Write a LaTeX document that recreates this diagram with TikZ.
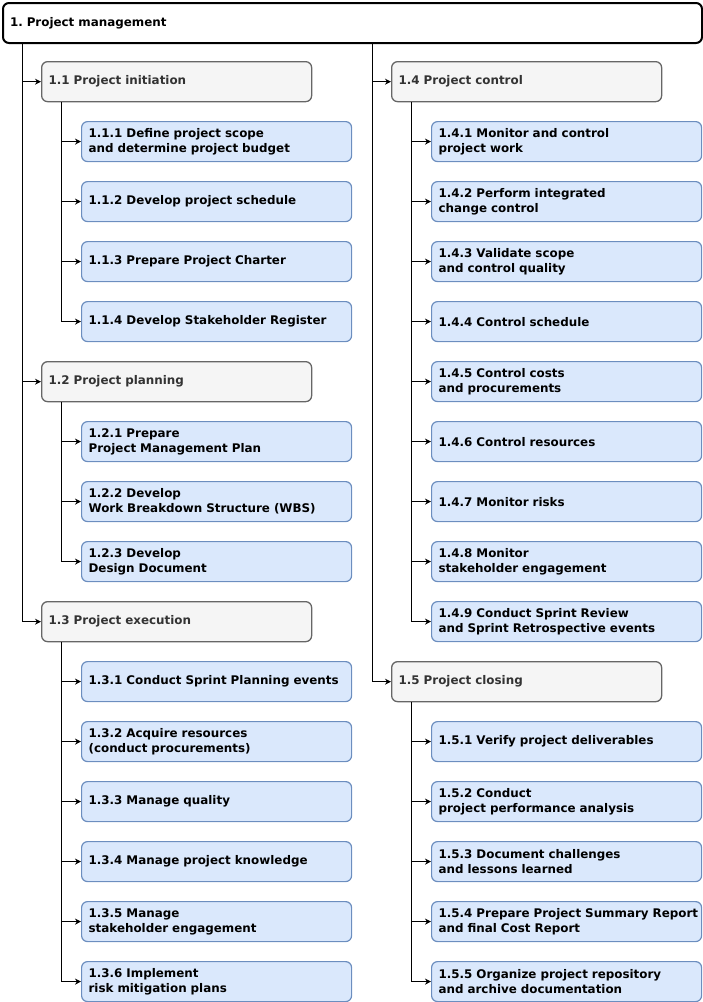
\documentclass[tikz,border=0pt]{standalone}
\usepackage{fontspec}
\setmainfont{DejaVu Sans}
\usetikzlibrary{arrows.meta}
\definecolor{gphase}{HTML}{F5F5F5}
\definecolor{gphaseline}{HTML}{666666}
\definecolor{gtext}{HTML}{333333}
\definecolor{btask}{HTML}{DAE8FC}
\definecolor{bline}{HTML}{6C8EBF}
\frenchspacing
\hbadness=10000
\hfuzz=50pt
\begin{document}
\begin{tikzpicture}[x=1pt,y=-1pt,
  box/.style={rounded corners=6pt, anchor=north west, minimum width=270pt, minimum height=40pt,
    text width=256pt, inner xsep=7pt, inner ysep=0pt, align=left,
    font=\fontsize{11.9}{15}\selectfont\bfseries},
  phase/.style={box, fill=gphase, draw=gphaseline, line width=1.3pt, text=gtext},
  task/.style={box, fill=btask, draw=bline, line width=1.2pt},
  rootbox/.style={box, fill=white, draw=black, line width=2pt, minimum width=699pt, text width=685pt},
  conn/.style={draw=black, line width=1pt, -{Stealth[length=6pt,width=6pt]}}]
\useasboundingbox (0,0) rectangle (702,1002);
\node[rootbox] (root) at (2,2) {1. Project management};
% left column
\node[phase] (n11) at (41,61) {1.1 Project initiation};
\node[task] (t111) at (81,121) {1.1.1 Define project scope\\and determine project budget};
\node[task] (t112) at (81,181) {1.1.2 Develop project schedule};
\node[task] (t113) at (81,241) {1.1.3 Prepare Project Charter};
\node[task] (t114) at (81,301) {1.1.4 Develop Stakeholder Register};
\node[phase] (n12) at (41,361) {1.2 Project planning};
\node[task] (t121) at (81,421) {1.2.1 Prepare\\Project Management Plan};
\node[task] (t122) at (81,481) {1.2.2 Develop\\Work Breakdown Structure (WBS)};
\node[task] (t123) at (81,541) {1.2.3 Develop\\Design Document};
\node[phase] (n13) at (41,601) {1.3 Project execution};
\node[task] (t131) at (81,661) {1.3.1 Conduct Sprint Planning events};
\node[task] (t132) at (81,721) {1.3.2 Acquire resources\\(conduct procurements)};
\node[task] (t133) at (81,781) {1.3.3 Manage quality};
\node[task] (t134) at (81,841) {1.3.4 Manage project knowledge};
\node[task] (t135) at (81,901) {1.3.5 Manage\\stakeholder engagement};
\node[task] (t136) at (81,961) {1.3.6 Implement\\risk mitigation plans};
% right column
\node[phase] (n14) at (391,61) {1.4 Project control};
\node[task] (t141) at (431,121) {1.4.1 Monitor and control\\project work};
\node[task] (t142) at (431,181) {1.4.2 Perform integrated\\change control};
\node[task] (t143) at (431,241) {1.4.3 Validate scope\\and control quality};
\node[task] (t144) at (431,301) {1.4.4 Control schedule};
\node[task] (t145) at (431,361) {1.4.5 Control costs\\and procurements};
\node[task] (t146) at (431,421) {1.4.6 Control resources};
\node[task] (t147) at (431,481) {1.4.7 Monitor risks};
\node[task] (t148) at (431,541) {1.4.8 Monitor\\stakeholder engagement};
\node[task] (t149) at (431,601) {1.4.9 Conduct Sprint Review\\and Sprint Retrospective events};
\node[phase] (n15) at (391,661) {1.5 Project closing};
\node[task] (t151) at (431,721) {1.5.1 Verify project deliverables};
\node[task] (t152) at (431,781) {1.5.2 Conduct\\project performance analysis};
\node[task] (t153) at (431,841) {1.5.3 Document challenges\\and lessons learned};
\node[task] (t154) at (431,901) {\mbox{1.5.4 Prepare Project Summary Report}\\and final Cost Report};
\node[task] (t155) at (431,961) {1.5.5 Organize project repository\\and archive documentation};
% connectors from root
\foreach \p in {n11,n12,n13} \draw[conn] ([xshift=20pt]root.south west) |- (\p.west);
\foreach \p in {n14,n15} \draw[conn] ([xshift=370pt]root.south west) |- (\p.west);
% connectors from phases
\foreach \c in {t111,t112,t113,t114} \draw[conn] ([xshift=20pt]n11.south west) |- (\c.west);
\foreach \c in {t121,t122,t123} \draw[conn] ([xshift=20pt]n12.south west) |- (\c.west);
\foreach \c in {t131,t132,t133,t134,t135,t136} \draw[conn] ([xshift=20pt]n13.south west) |- (\c.west);
\foreach \c in {t141,t142,t143,t144,t145,t146,t147,t148,t149} \draw[conn] ([xshift=20pt]n14.south west) |- (\c.west);
\foreach \c in {t151,t152,t153,t154,t155} \draw[conn] ([xshift=20pt]n15.south west) |- (\c.west);
\end{tikzpicture}
\end{document}
